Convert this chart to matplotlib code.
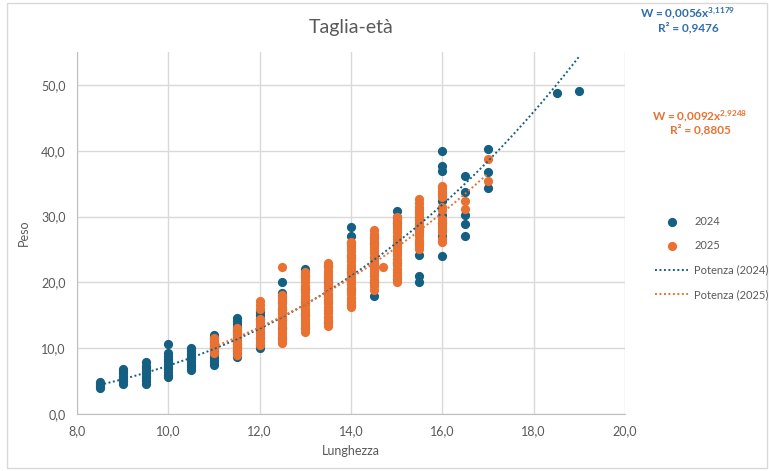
import numpy as np
import matplotlib
matplotlib.use("Agg")
import matplotlib.pyplot as plt
from matplotlib.patches import Rectangle

plt.rcParams['font.family'] = ['Lato', 'DejaVu Sans']
plt.rcParams['mathtext.default'] = 'regular'

# --- data ---------------------------------------------------------------
lung_2024 = [8.5, 9.0, 9.5, 10.0, 10.5, 11.0, 11.5, 12.0, 12.5, 13.0, 13.5,
             14.0, 14.5, 15.0, 15.5, 16.0, 16.5, 17.0, 18.5, 19.0]
peso_2024 = [
    [4.0, 4.3, 4.6, 4.8],
    [4.6, 5.0, 5.4, 5.8, 6.2, 6.6, 6.9],
    [4.6, 5.0, 5.4, 5.8, 6.2, 6.6, 7.0, 7.3, 7.9],
    [5.6, 6.0, 6.4, 6.8, 7.2, 7.6, 8.0, 8.4, 8.8, 9.3, 10.7],
    [6.7, 7.1, 7.5, 7.9, 8.3, 8.7, 9.1, 9.5, 10.0],
    [7.5, 7.9, 8.3, 8.7, 9.1, 9.5, 10.0, 10.5, 11.0, 11.5, 12.0],
    [8.7, 9.2, 9.7, 10.2, 10.7, 11.2, 11.7, 12.2, 12.7, 13.2, 13.7, 14.2, 14.6],
    [10.0, 10.5, 11.5, 12.5, 13.5, 14.5, 15.0, 15.5],
    [11.5, 13.0, 14.5, 16.0, 17.0, 18.0, 18.4, 20.1],
    [13.0, 15.0, 17.0, 19.0, 21.0, 22.0],
    [14.0, 17.0, 20.0, 22.5],
    [16.5, 19.0, 21.5, 24.0, 26.0, 27.0, 28.4],
    [18.0, 20.0, 23.0, 26.0, 26.8],
    [20.5, 23.0, 26.0, 29.0, 30.0, 30.8],
    [20.0, 21.0, 24.2, 26.0, 28.0, 30.0],
    [24.0, 27.0, 29.0, 30.3, 32.3, 33.5, 36.9, 37.7, 40.0],
    [27.1, 28.8, 30.3, 33.7, 36.1],
    [34.3, 36.7, 40.2],
    [48.8],
    [49.1],
]

lung_2025 = [11.0, 11.5, 12.0, 12.5, 13.0, 13.5, 14.0, 14.5, 14.7, 15.0,
             15.5, 16.0, 16.5, 17.0]
peso_2025 = [
    [9.3, 9.8, 10.3, 10.8, 11.2, 11.6],
    [9.0, 9.5, 10.0, 10.5, 11.0, 11.5, 12.0, 12.5, 13.0],
    [10.5, 11.0, 11.5, 12.0, 12.5, 13.0, 13.5, 14.0, 14.5, 16.0, 16.5, 17.1],
    [10.8, 11.3, 11.8, 12.3, 12.8, 13.3, 13.8, 14.3, 14.8, 15.3, 15.8,
     16.3, 16.8, 17.3, 17.7, 18.1, 22.4],
    [12.5, 13.0, 13.5, 14.0, 14.5, 15.0, 15.5, 16.0, 16.5, 17.0, 17.5,
     18.0, 18.5, 19.0, 19.5, 20.0, 20.5, 21.0, 21.5],
    [13.3, 13.8, 14.3, 14.8, 15.3, 15.8, 16.3, 16.8, 17.3, 17.8, 18.3,
     18.8, 19.3, 19.8, 20.3, 20.8, 21.3, 21.8, 22.3, 22.7, 23.0],
    [16.2, 16.7, 17.2, 17.7, 18.2, 18.7, 19.2, 19.7, 20.2, 20.7, 21.2,
     21.7, 22.2, 22.7, 23.2, 23.7, 24.2, 24.7, 25.2, 25.7, 26.1],
    [18.9, 19.4, 19.9, 20.4, 20.9, 21.4, 21.9, 22.4, 22.9, 23.4, 23.9,
     24.4, 24.9, 25.4, 25.9, 26.4, 26.9, 27.4, 27.9],
    [22.3],
    [20.1, 20.6, 21.1, 21.6, 22.1, 22.6, 23.1, 23.6, 24.1, 24.6, 25.1,
     25.6, 26.1, 26.6, 27.1, 27.6, 28.1, 28.6, 29.1, 29.6, 30.0],
    [25.0, 25.5, 26.0, 26.5, 27.0, 27.5, 28.0, 28.5, 29.0, 29.5, 30.0,
     30.5, 31.0, 31.5, 32.0, 32.6],
    [26.1, 26.6, 27.6, 28.1, 28.6, 29.1, 29.6, 31.0, 31.5, 32.9, 33.4,
     33.9, 34.3, 34.6],
    [31.1, 32.3],
    [35.4, 38.7],
]

# power trendlines W = a * L^b as shown on the chart
trend_2024 = (0.0056, 3.1179, 0.9476)
trend_2025 = (0.0092, 2.9248, 0.8805)

blu = '#156082'
arancio = '#E97132'
grigio = '#595959'

fig = plt.figure(figsize=(7.69, 4.71), dpi=100)
fig.patches.append(Rectangle((7 / 769, 3 / 471), 760 / 769, 465 / 471,
                             transform=fig.transFigure, fill=False,
                             edgecolor='#D9D9D9', linewidth=1))
ax = fig.add_axes([77 / 769, 1 - 414 / 471, 548 / 769, 362 / 471])


def flat(xs, cols):
    px, py = [], []
    for x, col in zip(xs, cols):
        px += [x] * len(col)
        py += col
    return px, py


x24, y24 = flat(lung_2024, peso_2024)
x25, y25 = flat(lung_2025, peso_2025)

p24 = ax.scatter(x24, y24, s=44, color=blu, zorder=3, linewidths=0)
p25 = ax.scatter(x25, y25, s=44, color=arancio, zorder=4, linewidths=0)

linee = []
for (a, b, r2), xs, col in [(trend_2024, x24, blu), (trend_2025, x25, arancio)]:
    lx = np.linspace(min(xs), max(xs), 200)
    l, = ax.plot(lx, a * lx ** b, linestyle=(0, (1, 1.3)), color=col,
                 linewidth=1.4, zorder=5)
    linee.append(l)

ax.set_xlim(8, 20)
ax.set_ylim(0, 55)
ax.set_xticks(np.arange(8, 20.1, 2))
ax.set_yticks(np.arange(0, 50.1, 10))
ax.set_xticklabels([f'{v:.1f}'.replace('.', ',') for v in ax.get_xticks()])
ax.set_yticklabels([f'{v:.1f}'.replace('.', ',') for v in ax.get_yticks()])
ax.grid(True, color='#D9D9D9', linewidth=1)
ax.set_axisbelow(True)
for s in ['top', 'right']:
    ax.spines[s].set_visible(False)
for s in ['left', 'bottom']:
    ax.spines[s].set_color('#BFBFBF')
ax.tick_params(length=0, labelsize=9, colors=grigio, pad=8)

ax.set_xlabel('Lunghezza', fontsize=9, color=grigio, labelpad=6)
ax.set_ylabel('Peso', fontsize=9, color=grigio, labelpad=8)
fig.text(351 / 769, 1 - 28 / 471, 'Taglia-età', fontsize=14, color=grigio,
         ha='center', va='center')

fig.text(688 / 769, 1 - 13 / 471, r'W = 0,0056x$^{3{,}1179}$', fontsize=8.5,
         color='#2F6DAE', weight='bold', ha='center', va='center')
fig.text(688 / 769, 1 - 28 / 471, 'R² = 0,9476', fontsize=8.5,
         color='#2F6DAE', weight='bold', ha='center', va='center')
fig.text(700 / 769, 1 - 116 / 471, r'W = 0,0092x$^{2{,}9248}$', fontsize=8.5,
         color=arancio, weight='bold', ha='center', va='center')
fig.text(700 / 769, 1 - 130 / 471, 'R² = 0,8805', fontsize=8.5,
         color=arancio, weight='bold', ha='center', va='center')

fig.legend([p24, p25] + linee,
           ['2024', '2025', 'Potenza (2024)', 'Potenza (2025)'],
           loc='upper left', bbox_to_anchor=(655 / 769, 1 - 216 / 471),
           frameon=False, fontsize=8, labelcolor=grigio, handlelength=3.0,
           labelspacing=1.2, scatterpoints=1, handletextpad=0.55,
           borderpad=0, borderaxespad=0)

fig.savefig('out.png', dpi=100)
